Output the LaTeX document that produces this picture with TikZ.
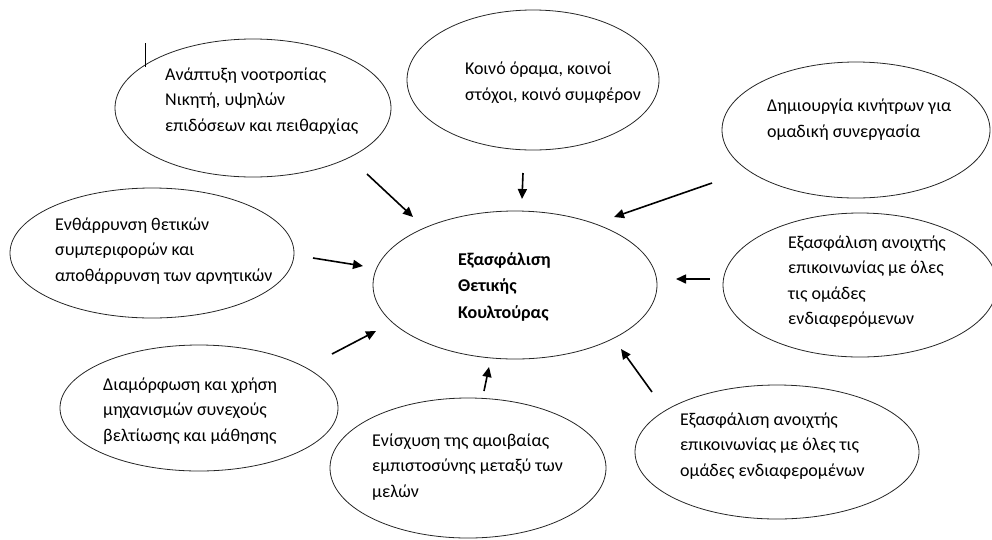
\documentclass[tikz,border=0pt]{standalone}
\usepackage{fontspec}
\setmainfont{Carlito}
\usetikzlibrary{shapes.geometric,arrows.meta}
\begin{document}
\begin{tikzpicture}[x=1pt,y=-1pt,
  bubble/.style={draw=black!85,line width=0.8pt,shape=ellipse,inner sep=0pt},
  label/.style={anchor=west,align=left,inner sep=0pt,font=\fontsize{18}{25.5}\selectfont},
  boldlabel/.style={label,font=\fontsize{18}{26.5}\selectfont\bfseries},
  arr/.style={line width=1.6pt,-{Triangle[length=10pt,width=9pt]}}]
\useasboundingbox (0,0) rectangle (992,539);
% ellipses
\node[bubble,minimum width=276pt,minimum height=138pt] (e1) at (253,108) {};
\node[bubble,minimum width=252pt,minimum height=140pt] (e2) at (533,80) {};
\node[bubble,minimum width=268pt,minimum height=136pt] (e3) at (856,130) {};
\node[bubble,minimum width=284pt,minimum height=130pt] (e4) at (152,253) {};
\node[bubble,minimum width=284pt,minimum height=148pt] (c) at (515,285) {};
\node[bubble,minimum width=274pt,minimum height=144pt] (e6) at (860,285) {};
\node[bubble,minimum width=278pt,minimum height=126pt] (e7) at (199,408) {};
\node[bubble,minimum width=276pt,minimum height=140pt] (e8) at (468,468) {};
\node[bubble,minimum width=284pt,minimum height=134pt] (e9) at (777,452) {};
% texts
\node[label] (t1) at (165,101) {Ανάπτυξη νοοτροπίας\\Νικητή, υψηλών\\επιδόσεων και πειθαρχίας};
\node[label] (t2) at (465,82.5) {Κοινό όραμα, κοινοί\\στόχοι, κοινό συμφέρον};
\node[label] (t3) at (767,119.5) {Δημιουργία κινήτρων για\\ομαδική συνεργασία};
\node[label] (t4) at (55,251) {Ενθάρρυνση θετικών\\συμπεριφορών και\\αποθάρρυνση των αρνητικών};
\node[boldlabel] (tc) at (458,286.5) {Εξασφάλιση\\Θετικής\\Κουλτούρας};
\node[label] (t6) at (788,281.5) {Εξασφάλιση ανοιχτής\\επικοινωνίας με όλες\\τις ομάδες\\ενδιαφερόμενων};
\node[label] (t7) at (103,411) {Διαμόρφωση και χρήση\\μηχανισμών συνεχούς\\βελτίωσης και μάθησης};
\node[label] (t8) at (372,467) {Ενίσχυση της αμοιβαίας\\εμπιστοσύνης μεταξύ των\\μελών};
\node[label] (t9) at (680,446) {Εξασφάλιση ανοιχτής\\επικοινωνίας με όλες τις\\ομάδες ενδιαφερομένων};
% cursor mark
\coordinate (m1) at (145,43);
\coordinate (m2) at (145,67);
\draw[line width=0.8pt] (m1) -- (m2);
% arrow end points
\coordinate (a1s) at (367,174); \coordinate (a1e) at (413,217);
\coordinate (a2s) at (523,173); \coordinate (a2e) at (522,199);
\coordinate (a3s) at (712,183); \coordinate (a3e) at (614,217);
\coordinate (a4s) at (313,258); \coordinate (a4e) at (363,266);
\coordinate (a5s) at (710,279); \coordinate (a5e) at (676,279);
\coordinate (a6s) at (332,354); \coordinate (a6e) at (376,331);
\coordinate (a7s) at (484,391); \coordinate (a7e) at (489,367);
\coordinate (a8s) at (652,392); \coordinate (a8e) at (621,349);
\draw[arr] (a1s) -- (a1e);
\draw[arr] (a2s) -- (a2e);
\draw[arr] (a3s) -- (a3e);
\draw[arr] (a4s) -- (a4e);
\draw[arr] (a5s) -- (a5e);
\draw[arr] (a6s) -- (a6e);
\draw[arr] (a7s) -- (a7e);
\draw[arr] (a8s) -- (a8e);
\end{tikzpicture}
\end{document}
